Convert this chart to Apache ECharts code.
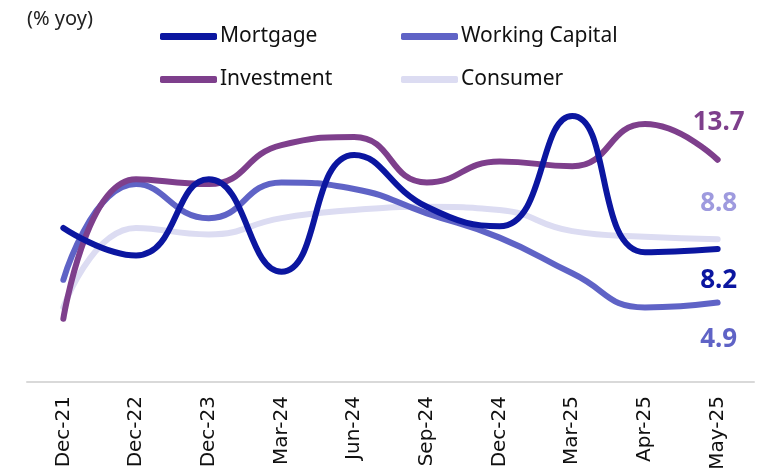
<!DOCTYPE html>
<html>
<head>
<meta charset="utf-8">
<script src="https://cdn.jsdelivr.net/npm/echarts@6/dist/echarts.min.js"></script>
<style>
  html, body { margin: 0; padding: 0; background: #fff; }
  #chart { width: 768px; height: 476px; }
</style>
</head>
<body>
<div id="chart"></div>
<script>
  // categories and series values (% yoy)
  const categories = ['Dec-21', 'Dec-22', 'Dec-23', 'Mar-24', 'Jun-24', 'Sep-24', 'Dec-24', 'Mar-25', 'Apr-25', 'May-25']
  const mortgage = [9.5, 7.8, 12.5, 6.8, 14.0, 10.8, 9.6, 16.4, 8.0, 8.2]
  const workingCapital = [6.3, 12.2, 10.1, 12.3, 11.9, 10.4, 8.9, 6.7, 4.6, 4.9]
  const investment = [3.9, 12.5, 12.2, 14.6, 15.1, 12.3, 13.6, 13.3, 15.9, 13.7]
  const consumer = [4.6, 9.5, 9.1, 10.1, 10.6, 10.8, 10.6, 9.3, 8.95, 8.8]

  const colors = {
    Mortgage: '#0b16a0',
    'Working Capital': '#5f63c6',
    Investment: '#7e3f8c',
    Consumer: '#dcdcf2',
  }

  const chart = echarts.init(document.getElementById('chart'))

  function makeLegend(name, left, top) {
    return {
      data: [name],
      left: left,
      top: top,
      padding: 0,
      icon: 'roundRect',
      itemWidth: 57,
      itemHeight: 7,
      itemGap: 0,
      textStyle: {
        fontFamily: 'Noto Sans',
        fontSize: 21,
        color: '#111',
        padding: [0, 0, 0, -2],
      },
    }
  }

  function makeSeries(name, values, labelColor, dy) {
    return {
      name: name,
      type: 'line',
      smooth: 0.5,
      symbol: 'none',
      lineStyle: { width: 6, color: colors[name], cap: 'round' },
      itemStyle: { color: colors[name] },
      endLabel: {
        show: true,
        formatter: (p) => p.value.toFixed(1),
        distance: 0,
        align: 'center',
        verticalAlign: 'middle',
        offset: [1, dy],
        color: labelColor,
        fontFamily: 'Noto Sans',
        fontWeight: 'bold',
        fontSize: 26,
      },
      data: values,
    }
  }

  chart.setOption({
    animation: false,
    title: {
      text: '(% yoy)',
      left: 22,
      top: 4,
      textStyle: {
        fontFamily: 'Noto Sans',
        fontWeight: 'normal',
        fontSize: 20,
        color: '#222',
      },
    },
    legend: [
      makeLegend('Mortgage', 160, 26),
      makeLegend('Working Capital', 401, 26),
      makeLegend('Investment', 160, 69),
      makeLegend('Consumer', 401, 69),
    ],
    grid: {
      left: 27,
      right: 14,
      top: 90,
      bottom: 94,
    },
    xAxis: {
      type: 'category',
      boundaryGap: true,
      data: categories,
      axisLine: { lineStyle: { color: '#d9d9d9', width: 2 } },
      axisTick: { show: false },
      axisLabel: {
        rotate: 90,
        margin: 14,
        interval: 0,
        fontFamily: 'DejaVu Sans',
        fontSize: 20,
        color: '#111',
      },
    },
    yAxis: {
      type: 'value',
      min: 0,
      max: 18,
      show: false,
      splitLine: { show: false },
    },
    series: [
      makeSeries('Consumer', consumer, '#9e9ade', -36),
      makeSeries('Working Capital', workingCapital, '#5f63c6', 37),
      makeSeries('Investment', investment, '#7e3f8c', -37),
      makeSeries('Mortgage', mortgage, '#0b16a0', 32),
    ],
  })
</script>
</body>
</html>
